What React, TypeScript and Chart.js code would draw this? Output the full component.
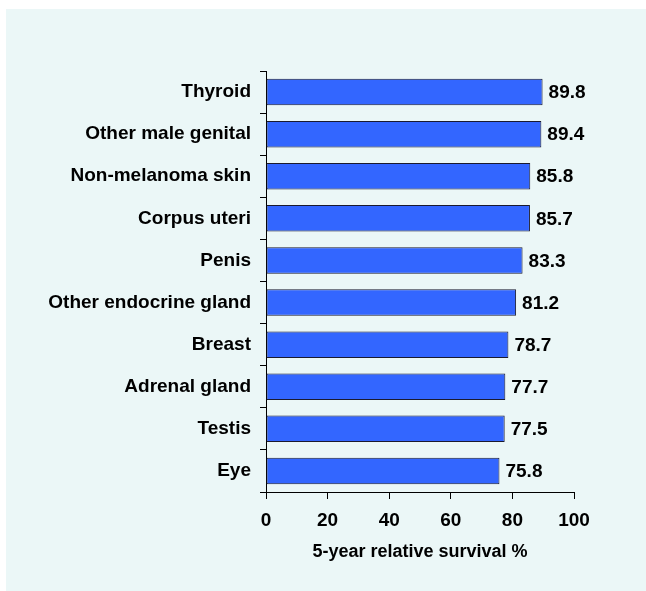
import { useEffect, useRef } from "react";
import { Chart, registerables } from "chart.js";

Chart.register(...registerables);

const categories = [
  "Thyroid",
  "Other male genital",
  "Non-melanoma skin",
  "Corpus uteri",
  "Penis",
  "Other endocrine gland",
  "Breast",
  "Adrenal gland",
  "Testis",
  "Eye",
];
const survival = [89.8, 89.4, 85.8, 85.7, 83.3, 81.2, 78.7, 77.7, 77.5, 75.8];
const xAxisTitle = "5-year relative survival %";

const FONT = "'Liberation Sans', Arial, Helvetica, sans-serif";

const backgroundPlugin = {
  id: "panelBg",
  beforeDraw(chart: any) {
    const { ctx, width, height } = chart;
    ctx.save();
    ctx.fillStyle = "#ffffff";
    ctx.fillRect(0, 0, width, height);
    ctx.fillStyle = "#ebf7f7";
    ctx.fillRect(6, 9, width - 6, height - 9);
    ctx.restore();
  },
};

const valueLabelPlugin = {
  id: "valueLabels",
  afterDatasetsDraw(chart: any) {
    const { ctx } = chart;
    const meta = chart.getDatasetMeta(0);
    const data = chart.data.datasets[0].data as number[];
    ctx.save();
    ctx.font = `bold 19px ${FONT}`;
    ctx.fillStyle = "#000000";
    ctx.textAlign = "left";
    ctx.textBaseline = "middle";
    meta.data.forEach((bar: any, i: number) => {
      ctx.fillText(data[i].toFixed(1), bar.x + 6, bar.y + 1);
    });
    ctx.restore();
  },
};

export default function App() {
  const ref = useRef<HTMLCanvasElement | null>(null);

  useEffect(() => {
    if (!ref.current) return;
    const chart = new Chart(ref.current, {
      type: "bar",
      data: {
        labels: categories,
        datasets: [
          {
            data: survival,
            backgroundColor: "#3366ff",
            borderColor: "#1a1a2e",
            borderWidth: 1,
            borderSkipped: false,
            barPercentage: 0.63,
            categoryPercentage: 1,
          },
        ],
      },
      options: {
        indexAxis: "y",
        responsive: false,
        animation: false,
        layout: { padding: { top: 71, right: 72, left: 0, bottom: 0 } },
        plugins: {
          legend: { display: false },
          tooltip: { enabled: false },
        },
        scales: {
          x: {
            min: 0,
            max: 100,
            afterFit(scale: any) {
              scale.height = 99;
            },
            ticks: {
              stepSize: 20,
              color: "#000000",
              padding: 10,
              font: { family: FONT, size: 19, weight: "bold" },
            },
            grid: {
              display: true,
              drawOnChartArea: false,
              drawTicks: true,
              tickLength: 7,
              color: "#000000",
            },
            border: { display: true, color: "#000000", width: 1 },
            title: {
              display: true,
              text: xAxisTitle,
              color: "#000000",
              font: { family: FONT, size: 18, weight: "bold" },
              padding: { top: 0, bottom: 28 },
            },
          },
          y: {
            afterFit(scale: any) {
              scale.width = 266;
            },
            ticks: {
              color: "#000000",
              padding: 9,
              font: { family: FONT, size: 19, weight: "bold" },
            },
            grid: {
              display: true,
              offset: true,
              drawOnChartArea: false,
              drawTicks: true,
              tickLength: 6,
              color: "#000000",
            },
            border: { display: true, color: "#000000", width: 1 },
          },
        },
      },
      plugins: [backgroundPlugin, valueLabelPlugin],
    });
    return () => chart.destroy();
  }, []);

  return (
    <div style={{ position: "absolute", left: 0, top: 0, width: 646, height: 591 }}>
      <canvas ref={ref} width={646} height={591} style={{ display: "block" }} />
    </div>
  );
}
